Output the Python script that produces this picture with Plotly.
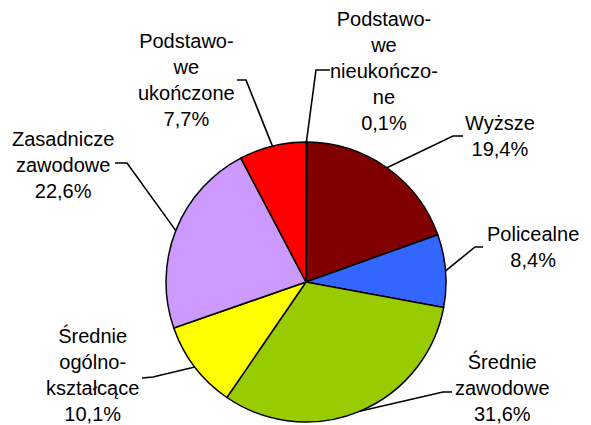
import math
import plotly.graph_objects as go

# ---- data ----
categories = ["Podstawowe nieukończone", "Wyższe", "Policealne", "Średnie zawodowe",
              "Średnie ogólnokształcące", "Zasadnicze zawodowe", "Podstawowe ukończone"]
label_texts = ["Podstawo-<br>we<br>nieukończo-<br>ne", "Wyższe", "Policealne",
               "Średnie<br>zawodowe", "Średnie<br>ogólno-<br>kształcące",
               "Zasadnicze<br>zawodowe", "Podstawo-<br>we<br>ukończone"]
values = [0.1, 19.4, 8.4, 31.6, 10.1, 22.6, 7.7]

# ---- style / layout ----
colors = ["#000080", "#800000", "#3366FF", "#99CC00", "#FFFF00", "#CC99FF", "#FF0000"]
W, H = 591, 425
CX, CY, R = 306, 282, 140
FONT = dict(family="Liberation Sans, Arial, sans-serif", size=20, color="black")
# label block centres and leader-line bend points (pixels)
label_pos = [(384, 70.5), (500, 136), (532.5, 246.5), (502, 387),
             (92.5, 374), (62.5, 164.5), (186, 80)]
bend_pts = [[(316, 70), (330, 70)], [(453, 136), (463, 136)], [(475, 247), (483, 247)],
            [(443, 392), (452, 392)], [(153, 377), (142, 378)], [(127, 163), (115, 163)],
            [(246, 80), (237, 80)]]

fig = go.Figure()
fig.add_trace(go.Pie(
    labels=categories, values=values, sort=False, direction="clockwise", rotation=0,
    marker=dict(colors=colors, line=dict(color="black", width=1.5)),
    textinfo="none", hoverinfo="label+percent", showlegend=False,
    domain=dict(x=[(CX - R) / W, (CX + R) / W], y=[(H - CY - R) / H, (H - CY + R) / H]),
))

# invisible pixel axes for labels and leader lines
fig.add_trace(go.Scatter(x=[0, W], y=[0, H], mode="markers", marker=dict(opacity=0),
                         showlegend=False, hoverinfo="skip"))

total = sum(values)
cum = 0.0
for i, v in enumerate(values):
    mid = (cum + v / 2) / total * 2 * math.pi
    cum += v
    sx = CX + R * math.sin(mid)
    sy = CY - R * math.cos(mid)
    pts = [(sx, sy)] + bend_pts[i]
    path = "M " + " L ".join(f"{x:.1f},{y:.1f}" for x, y in pts)
    fig.add_shape(type="path", path=path, xref="x", yref="y",
                  line=dict(color="black", width=1.6))
    pct = f"{v:.1f}".replace(".", ",") + "%"
    fig.add_annotation(x=label_pos[i][0], y=label_pos[i][1], xref="x", yref="y",
                       text=label_texts[i] + "<br>" + pct, showarrow=False, borderpad=0,
                       xanchor="center", yanchor="middle", align="center", font=FONT)

fig.update_layout(
    width=W, height=H, margin=dict(l=0, r=0, t=0, b=0),
    paper_bgcolor="white", plot_bgcolor="white",
    xaxis=dict(range=[0, W], visible=False, fixedrange=True),
    yaxis=dict(range=[H, 0], visible=False, fixedrange=True),
    font=FONT,
)
fig.write_html("out.html", config={"displayModeBar": False},
               post_script="document.body.style.margin='0';document.body.style.overflow='hidden';")
